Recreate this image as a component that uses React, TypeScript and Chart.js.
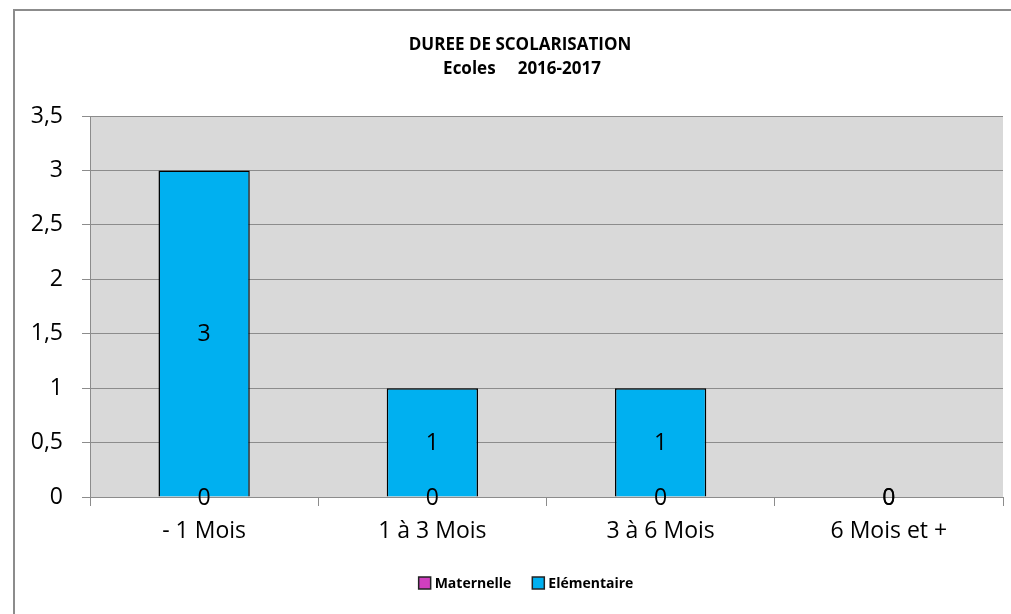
import React, { useEffect, useRef } from "react";
import { Chart, registerables } from "chart.js";

Chart.register(...registerables);

const categories = ["- 1 Mois", "1 à 3 Mois", "3 à 6 Mois", "6 Mois et +"];
const maternelle = [0, 0, 0, 0];
const elementaire = [3, 1, 1, 0];
const seriesNames = ["Maternelle", "Elémentaire"];
const seriesColors = ["#d13fc0", "#00b0f0"];
const titleLines = ["DUREE DE SCOLARISATION", "Ecoles     2016-2017"];
const yMin = 0;
const yMax = 3.5;
const yStep = 0.5;

const FONT = "'Open Sans', 'Noto Sans', sans-serif";
const GRID = "#8c8c8c";

const decorPlugin = {
  id: "decor",
  beforeDraw(chart: any) {
    const { ctx, chartArea } = chart;
    ctx.save();
    ctx.fillStyle = "#d9d9d9";
    ctx.fillRect(chartArea.left, chartArea.top, chartArea.right - chartArea.left, chartArea.bottom - chartArea.top);
    ctx.strokeStyle = GRID;
    ctx.lineWidth = 2;
    ctx.strokeRect(14, 10, 1100, 700);
    ctx.restore();
  },
  afterDraw(chart: any) {
    const { ctx } = chart;
    ctx.save();
    // title
    ctx.fillStyle = "#000";
    ctx.font = `bold 17px ${FONT}`;
    ctx.textAlign = "center";
    ctx.textBaseline = "middle";
    ctx.fillText(titleLines[0], 520, 45);
    ctx.fillText(titleLines[1], 522, 69);
    // legend
    ctx.font = `bold 14px ${FONT}`;
    const box = 12;
    const gap = 4;
    const itemGap = 21;
    const w0 = ctx.measureText(seriesNames[0]).width;
    const w1 = ctx.measureText(seriesNames[1]).width;
    const total = box + gap + w0 + itemGap + box + gap + w1;
    let x = 526 - total / 2;
    const cy = 583;
    ctx.textAlign = "left";
    [0, 1].forEach((i) => {
      ctx.fillStyle = seriesColors[i];
      ctx.fillRect(x, cy - box / 2, box, box);
      ctx.strokeStyle = "#222";
      ctx.lineWidth = 1.5;
      ctx.strokeRect(x, cy - box / 2, box, box);
      x += box + gap;
      ctx.fillStyle = "#000";
      ctx.fillText(seriesNames[i], x, cy + 1);
      x += (i === 0 ? w0 : w1) + itemGap;
    });
    ctx.restore();
  },
  afterDatasetsDraw(chart: any) {
    const { ctx } = chart;
    ctx.save();
    ctx.font = `23px ${FONT}`;
    ctx.fillStyle = "#000";
    ctx.textAlign = "center";
    ctx.textBaseline = "middle";
    chart.data.datasets.forEach((ds: any, di: number) => {
      const meta = chart.getDatasetMeta(di);
      meta.data.forEach((el: any, i: number) => {
        const v = ds.data[i];
        ctx.fillText(String(v).replace(".", ","), el.x, (el.y + el.base) / 2 + 1);
      });
    });
    ctx.restore();
  },
};

export default function App() {
  const ref = useRef<HTMLCanvasElement | null>(null);
  useEffect(() => {
    if (!ref.current) return;
    const chart = new Chart(ref.current, {
      type: "bar",
      data: {
        labels: categories,
        datasets: [
          {
            label: seriesNames[0],
            data: maternelle,
            backgroundColor: seriesColors[0],
            borderWidth: 0,
            categoryPercentage: 1,
            barPercentage: 0.4,
          },
          {
            label: seriesNames[1],
            data: elementaire,
            backgroundColor: seriesColors[1],
            borderColor: "#000",
            borderWidth: 1.5,
            categoryPercentage: 1,
            barPercentage: 0.4,
          },
        ],
      },
      options: {
        responsive: false,
        animation: false,
        devicePixelRatio: 1,
        layout: { padding: { top: 116, left: 0, right: 8, bottom: 0 } },
        plugins: {
          legend: { display: false },
          title: { display: false },
          tooltip: { enabled: false },
        },
        scales: {
          x: {
            stacked: true,
            afterFit: (s: any) => {
              s.height = 117;
            },
            grid: { drawOnChartArea: false, offset: true, color: GRID, tickLength: 9, lineWidth: 1 },
            border: { color: GRID, width: 1 },
            ticks: { color: "#000", font: { family: FONT, size: 23 }, padding: 12, maxRotation: 0 },
          },
          y: {
            stacked: true,
            min: yMin,
            max: yMax,
            afterFit: (s: any) => {
              s.width = 90;
            },
            grid: { color: GRID, tickLength: 8, lineWidth: 1 },
            border: { color: GRID, width: 1 },
            ticks: {
              stepSize: yStep,
              color: "#000",
              font: { family: FONT, size: 23 },
              padding: 19,
              callback: (v: any) => String(v).replace(".", ","),
            },
          },
        },
      },
      plugins: [decorPlugin],
    });
    return () => chart.destroy();
  }, []);
  return (
    <div style={{ position: "fixed", left: 0, top: 0, width: 1011, height: 614, background: "#fff" }}>
      <canvas ref={ref} width={1011} height={614} style={{ display: "block" }} />
    </div>
  );
}
